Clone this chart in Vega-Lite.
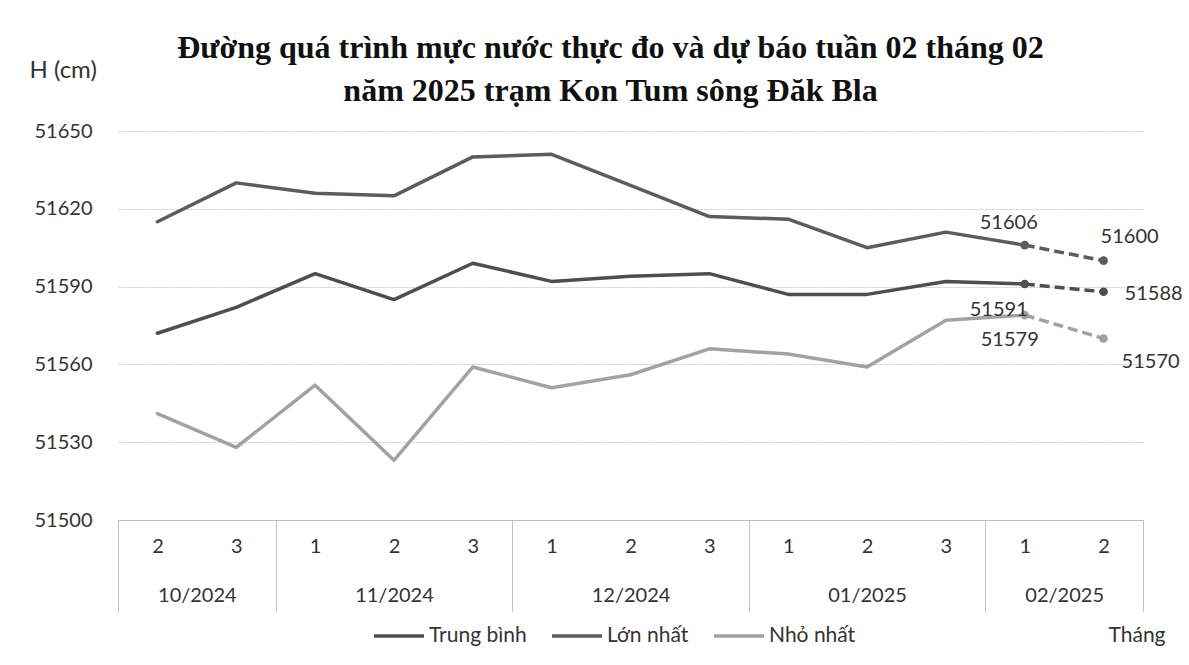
{
  "$schema": "https://vega.github.io/schema/vega-lite/v6.json",
  "width": 1025,
  "height": 389,
  "autosize": {"type": "none"},
  "padding": {"left": 118, "top": 131, "right": 46, "bottom": 145},
  "background": "white",
  "config": {"view": {"stroke": null}, "font": "Lato"},
  "title": {
    "text": ["Đường quá trình mực nước thực đo và dự báo tuần 02 tháng 02", "năm 2025 trạm Kon Tum sông Đăk Bla"],
    "font": "Liberation Serif",
    "fontSize": 32,
    "fontWeight": "bold",
    "color": "#111111",
    "anchor": "middle",
    "frame": "group",
    "dx": -20,
    "offset": -50,
    "lineHeight": 43
  },
  "data": {
    "values": [
      {"idx": 1, "tuan": "2", "thang": "10/2024", "series": "Lớn nhất", "value": 51615},
      {"idx": 2, "tuan": "3", "thang": "10/2024", "series": "Lớn nhất", "value": 51630},
      {"idx": 3, "tuan": "1", "thang": "11/2024", "series": "Lớn nhất", "value": 51626},
      {"idx": 4, "tuan": "2", "thang": "11/2024", "series": "Lớn nhất", "value": 51625},
      {"idx": 5, "tuan": "3", "thang": "11/2024", "series": "Lớn nhất", "value": 51640},
      {"idx": 6, "tuan": "1", "thang": "12/2024", "series": "Lớn nhất", "value": 51641},
      {"idx": 7, "tuan": "2", "thang": "12/2024", "series": "Lớn nhất", "value": 51629},
      {"idx": 8, "tuan": "3", "thang": "12/2024", "series": "Lớn nhất", "value": 51617},
      {"idx": 9, "tuan": "1", "thang": "01/2025", "series": "Lớn nhất", "value": 51616},
      {"idx": 10, "tuan": "2", "thang": "01/2025", "series": "Lớn nhất", "value": 51605},
      {"idx": 11, "tuan": "3", "thang": "01/2025", "series": "Lớn nhất", "value": 51611},
      {"idx": 12, "tuan": "1", "thang": "02/2025", "series": "Lớn nhất", "value": 51606},
      {"idx": 13, "tuan": "2", "thang": "02/2025", "series": "Lớn nhất", "value": 51600},
      {"idx": 1, "tuan": "2", "thang": "10/2024", "series": "Trung bình", "value": 51572},
      {"idx": 2, "tuan": "3", "thang": "10/2024", "series": "Trung bình", "value": 51582},
      {"idx": 3, "tuan": "1", "thang": "11/2024", "series": "Trung bình", "value": 51595},
      {"idx": 4, "tuan": "2", "thang": "11/2024", "series": "Trung bình", "value": 51585},
      {"idx": 5, "tuan": "3", "thang": "11/2024", "series": "Trung bình", "value": 51599},
      {"idx": 6, "tuan": "1", "thang": "12/2024", "series": "Trung bình", "value": 51592},
      {"idx": 7, "tuan": "2", "thang": "12/2024", "series": "Trung bình", "value": 51594},
      {"idx": 8, "tuan": "3", "thang": "12/2024", "series": "Trung bình", "value": 51595},
      {"idx": 9, "tuan": "1", "thang": "01/2025", "series": "Trung bình", "value": 51587},
      {"idx": 10, "tuan": "2", "thang": "01/2025", "series": "Trung bình", "value": 51587},
      {"idx": 11, "tuan": "3", "thang": "01/2025", "series": "Trung bình", "value": 51592},
      {"idx": 12, "tuan": "1", "thang": "02/2025", "series": "Trung bình", "value": 51591},
      {"idx": 13, "tuan": "2", "thang": "02/2025", "series": "Trung bình", "value": 51588},
      {"idx": 1, "tuan": "2", "thang": "10/2024", "series": "Nhỏ nhất", "value": 51541},
      {"idx": 2, "tuan": "3", "thang": "10/2024", "series": "Nhỏ nhất", "value": 51528},
      {"idx": 3, "tuan": "1", "thang": "11/2024", "series": "Nhỏ nhất", "value": 51552},
      {"idx": 4, "tuan": "2", "thang": "11/2024", "series": "Nhỏ nhất", "value": 51523},
      {"idx": 5, "tuan": "3", "thang": "11/2024", "series": "Nhỏ nhất", "value": 51559},
      {"idx": 6, "tuan": "1", "thang": "12/2024", "series": "Nhỏ nhất", "value": 51551},
      {"idx": 7, "tuan": "2", "thang": "12/2024", "series": "Nhỏ nhất", "value": 51556},
      {"idx": 8, "tuan": "3", "thang": "12/2024", "series": "Nhỏ nhất", "value": 51566},
      {"idx": 9, "tuan": "1", "thang": "01/2025", "series": "Nhỏ nhất", "value": 51564},
      {"idx": 10, "tuan": "2", "thang": "01/2025", "series": "Nhỏ nhất", "value": 51559},
      {"idx": 11, "tuan": "3", "thang": "01/2025", "series": "Nhỏ nhất", "value": 51577},
      {"idx": 12, "tuan": "1", "thang": "02/2025", "series": "Nhỏ nhất", "value": 51579},
      {"idx": 13, "tuan": "2", "thang": "02/2025", "series": "Nhỏ nhất", "value": 51570}
    ]
  },
  "encoding": {
    "y": {
      "field": "value",
      "type": "quantitative",
      "scale": {"domain": [51500, 51650], "nice": false, "zero": false},
      "axis": {
        "values": [51500, 51530, 51560, 51590, 51620, 51650],
        "format": "d",
        "title": "H (cm)",
        "titleAngle": 0,
        "titleAlign": "left",
        "titleBaseline": "middle",
        "titleX": -89,
        "titleY": -61,
        "titleFont": "Lato",
        "titleFontSize": 24,
        "titleFontWeight": "normal",
        "titleColor": "#333333",
        "labelFont": "Lato",
        "labelFontSize": 20,
        "labelColor": "#333333",
        "labelPadding": 26,
        "ticks": false,
        "domain": false,
        "gridColor": "#cccccc",
        "gridDash": [2, 1],
        "gridWidth": 1
      }
    }
  },
  "layer": [
    {
      "transform": [{"filter": "datum.idx <= 12"}],
      "mark": {"type": "line", "strokeWidth": 3.5, "strokeCap": "round", "strokeJoin": "round"},
      "encoding": {
        "x": {
          "field": "idx",
          "type": "quantitative",
          "scale": {"domain": [0.5, 13.5], "nice": false, "zero": false},
          "axis": {
            "orient": "bottom",
            "values": [1, 2, 3, 4, 5, 6, 7, 8, 9, 10, 11, 12, 13],
            "labelExpr": "['2','3','1','2','3','1','2','3','1','2','3','1','2'][datum.value - 1]",
            "labelFont": "Lato",
            "labelFontSize": 20,
            "labelColor": "#333333",
            "labelAngle": 0,
            "labelPadding": 16,
            "ticks": false,
            "grid": false,
            "domainColor": "#bdbdbd",
            "domainWidth": 1,
            "title": "Tháng",
            "titleX": 990,
            "titleY": 115,
            "titleAlign": "left",
            "titleBaseline": "middle",
            "titleFont": "Lato",
            "titleFontSize": 21,
            "titleFontWeight": "normal",
            "titleColor": "#333333"
          }
        },
        "color": {
          "field": "series",
          "type": "nominal",
          "scale": {"domain": ["Trung bình", "Lớn nhất", "Nhỏ nhất"], "range": ["#4e4e4e", "#5c5c5c", "#a2a2a2"]},
          "legend": {
            "orient": "none",
            "legendX": 254,
            "legendY": 478,
            "direction": "horizontal",
            "title": null,
            "symbolType": "stroke",
            "symbolSize": 2500,
            "symbolStrokeWidth": 3.5,
            "labelFont": "Lato",
            "labelFontSize": 21,
            "labelColor": "#333333",
            "labelOffset": 3,
            "columnPadding": 18,
            "padding": 0
          }
        }
      }
    },
    {
      "transform": [{"filter": "datum.idx >= 12"}],
      "mark": {"type": "line", "strokeWidth": 3.5, "strokeDash": [10, 5]},
      "encoding": {
        "x": {
          "field": "idx",
          "type": "quantitative",
          "scale": {"domain": [0.5, 13.5], "nice": false, "zero": false},
          "axis": {
            "orient": "bottom",
            "values": [1.5, 4, 7, 10, 12.5],
            "labelExpr": "datum.value == 1.5 ? '10/2024' : datum.value == 4 ? '11/2024' : datum.value == 7 ? '12/2024' : datum.value == 10 ? '01/2025' : '02/2025'",
            "labelFont": "Lato",
            "labelFontSize": 20,
            "labelColor": "#333333",
            "labelAngle": 0,
            "labelPadding": 65,
            "ticks": false,
            "domain": false,
            "grid": false,
            "title": null
          }
        },
        "color": {"field": "series", "type": "nominal", "legend": null}
      }
    },
    {
      "transform": [{"filter": "datum.idx >= 12"}],
      "mark": {"type": "point", "shape": "circle", "filled": true, "size": 75, "opacity": 1},
      "encoding": {
        "x": {
          "field": "idx",
          "type": "quantitative",
          "scale": {"domain": [0.5, 13.5], "nice": false, "zero": false},
          "axis": {
            "orient": "bottom",
            "values": [0.5, 2.5, 5.5, 8.5, 11.5, 13.5],
            "labels": false,
            "domain": false,
            "grid": false,
            "ticks": true,
            "tickSize": 92,
            "tickColor": "#c4c4c4",
            "tickWidth": 1,
            "title": null
          }
        },
        "color": {"field": "series", "type": "nominal", "legend": null}
      }
    },
    {
      "transform": [{"filter": "datum.series == 'Lớn nhất' && datum.idx == 12"}],
      "mark": {"type": "text", "font": "Lato", "fontSize": 20, "color": "#333333", "dx": -16, "dy": -22},
      "encoding": {"x": {"field": "idx", "type": "quantitative", "axis": null}, "text": {"field": "value", "type": "quantitative", "format": "d"}}
    },
    {
      "transform": [{"filter": "datum.series == 'Lớn nhất' && datum.idx == 13"}],
      "mark": {"type": "text", "font": "Lato", "fontSize": 20, "color": "#333333", "dx": 26, "dy": -24},
      "encoding": {"x": {"field": "idx", "type": "quantitative", "axis": null}, "text": {"field": "value", "type": "quantitative", "format": "d"}}
    },
    {
      "transform": [{"filter": "datum.series == 'Trung bình' && datum.idx == 12"}],
      "mark": {"type": "text", "font": "Lato", "fontSize": 20, "color": "#333333", "dx": -26, "dy": 26},
      "encoding": {"x": {"field": "idx", "type": "quantitative", "axis": null}, "text": {"field": "value", "type": "quantitative", "format": "d"}}
    },
    {
      "transform": [{"filter": "datum.series == 'Trung bình' && datum.idx == 13"}],
      "mark": {"type": "text", "font": "Lato", "fontSize": 20, "color": "#333333", "dx": 50, "dy": 2},
      "encoding": {"x": {"field": "idx", "type": "quantitative", "axis": null}, "text": {"field": "value", "type": "quantitative", "format": "d"}}
    },
    {
      "transform": [{"filter": "datum.series == 'Nhỏ nhất' && datum.idx == 12"}],
      "mark": {"type": "text", "font": "Lato", "fontSize": 20, "color": "#333333", "dx": -15, "dy": 25},
      "encoding": {"x": {"field": "idx", "type": "quantitative", "axis": null}, "text": {"field": "value", "type": "quantitative", "format": "d"}}
    },
    {
      "transform": [{"filter": "datum.series == 'Nhỏ nhất' && datum.idx == 13"}],
      "mark": {"type": "text", "font": "Lato", "fontSize": 20, "color": "#333333", "dx": 47, "dy": 24},
      "encoding": {"x": {"field": "idx", "type": "quantitative", "axis": null}, "text": {"field": "value", "type": "quantitative", "format": "d"}}
    }
  ],
  "resolve": {"axis": {"x": "independent"}}
}
